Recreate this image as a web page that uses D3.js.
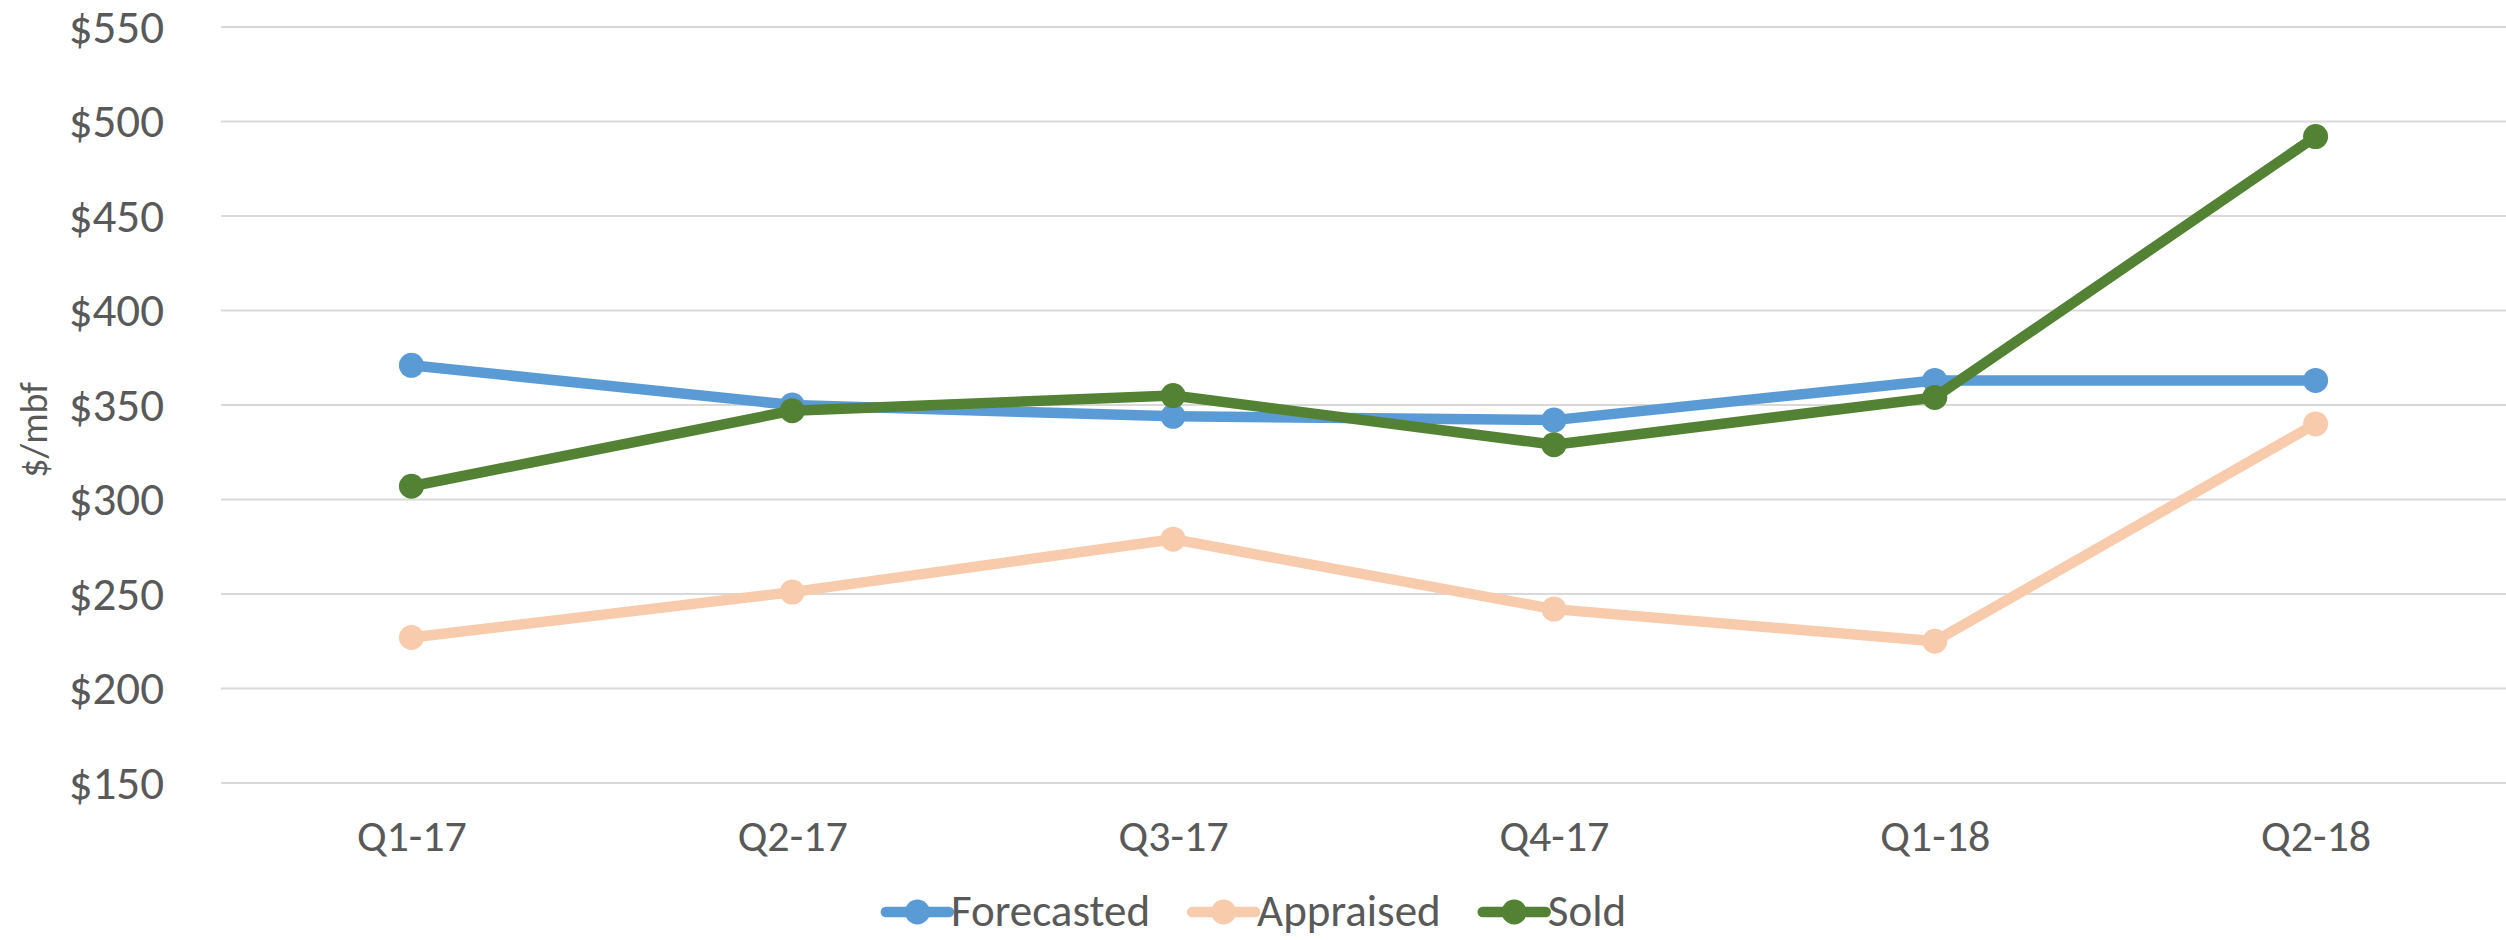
<!DOCTYPE html>
<html>
<head>
<meta charset="utf-8">
<script src="https://cdn.jsdelivr.net/npm/d3@7"></script>
<style>
  body { margin: 0; background: #fff; }
  svg text { font-family: Calibri, Carlito, Lato, sans-serif; fill: #595959; }
</style>
</head>
<body>
<svg id="chart" width="2506" height="940"></svg>
<script>
// quarters and prices
var quarters = ["Q1-17", "Q2-17", "Q3-17", "Q4-17", "Q1-18", "Q2-18"]
var forecasted = [371, 350, 344, 342, 363, 363]
var appraised = [227, 251, 279, 242, 225, 340]
var sold = [307, 347, 355, 329, 354, 492]
var yTicks = [150, 200, 250, 300, 350, 400, 450, 500, 550]

var seriesNames = ["Forecasted", "Appraised", "Sold"]
var seriesColors = ["#5B9BD5", "#F8CBAD", "#548235"]
var seriesValues = [forecasted, appraised, sold]

var svg = d3.select("#chart")
var plotLeft = 221, plotRight = 2506, plotTop = 27, plotBottom = 783

var x = d3.scalePoint().domain(quarters).range([plotLeft, plotRight]).padding(0.5)
var y = d3.scaleLinear().domain([150, 550]).range([plotBottom, plotTop])

// gridlines
svg.append("g")
    .selectAll("line")
    .data(yTicks)
    .enter().append("line")
    .attr("x1", plotLeft).attr("x2", plotRight)
    .attr("y1", function (d) { return y(d) }).attr("y2", function (d) { return y(d) })
    .attr("stroke", "#D9D9D9")
    .attr("stroke-width", 2)

// y axis labels
var yAxis = svg.append("g")
    .attr("transform", "translate(" + 164 + ",0)")
    .call(d3.axisLeft(y).tickValues(yTicks).tickSize(0).tickPadding(0)
        .tickFormat(function (d) { return "$" + d }))
yAxis.select(".domain").remove()
yAxis.selectAll("text").attr("font-size", 47).attr("fill", "#595959")
    .attr("font-family", null)

// x axis labels
var xAxis = svg.append("g")
    .attr("transform", "translate(0," + 851 + ")")
    .call(d3.axisBottom(x).tickSize(0).tickPadding(0))
xAxis.select(".domain").remove()
xAxis.selectAll("text").attr("font-size", 44).attr("dy", 0).attr("fill", "#595959")
    .attr("font-family", null)

// axis title
svg.append("text")
    .attr("transform", "translate(47,430) rotate(-90)")
    .attr("text-anchor", "middle")
    .attr("font-size", 38)
    .text("$/mbf")

var line = d3.line()
    .x(function (d, i) { return x(quarters[i]) })
    .y(function (d) { return y(d) })

var series = svg.append("g").selectAll("g")
    .data(seriesValues)
    .enter().append("g")

series.append("path")
    .attr("d", function (d) { return line(d) })
    .attr("fill", "none")
    .attr("stroke", function (d, i) { return seriesColors[i] })
    .attr("stroke-width", 10.5)
    .attr("stroke-linejoin", "round")

series.each(function (vals, si) {
    d3.select(this).selectAll("circle")
        .data(vals)
        .enter().append("circle")
        .attr("cx", function (d, i) { return x(quarters[i]) })
        .attr("cy", function (d) { return y(d) })
        .attr("r", 12.5)
        .attr("fill", seriesColors[si])
})

// legend
var legend = svg.append("g")
var lx = 0
var items = legend.selectAll("g")
    .data(seriesNames)
    .enter().append("g")
items.append("line")
    .attr("x1", 0).attr("x2", 63).attr("y1", 0).attr("y2", 0)
    .attr("stroke", function (d, i) { return seriesColors[i] })
    .attr("stroke-width", 10.5)
    .attr("stroke-linecap", "round")
items.append("circle")
    .attr("cx", 31.5).attr("r", 12.5)
    .attr("fill", function (d, i) { return seriesColors[i] })
items.append("text")
    .attr("x", 65).attr("y", 14)
    .attr("font-size", 45)
    .text(function (d) { return d })
items.each(function () {
    var w = this.getBBox().width
    d3.select(this).attr("transform", "translate(" + lx + ",912)")
    lx += w + 42
})
var totalW = lx - 42
legend.attr("transform", "translate(" + (1256 - totalW / 2) + ",0)")
</script>
</body>
</html>
